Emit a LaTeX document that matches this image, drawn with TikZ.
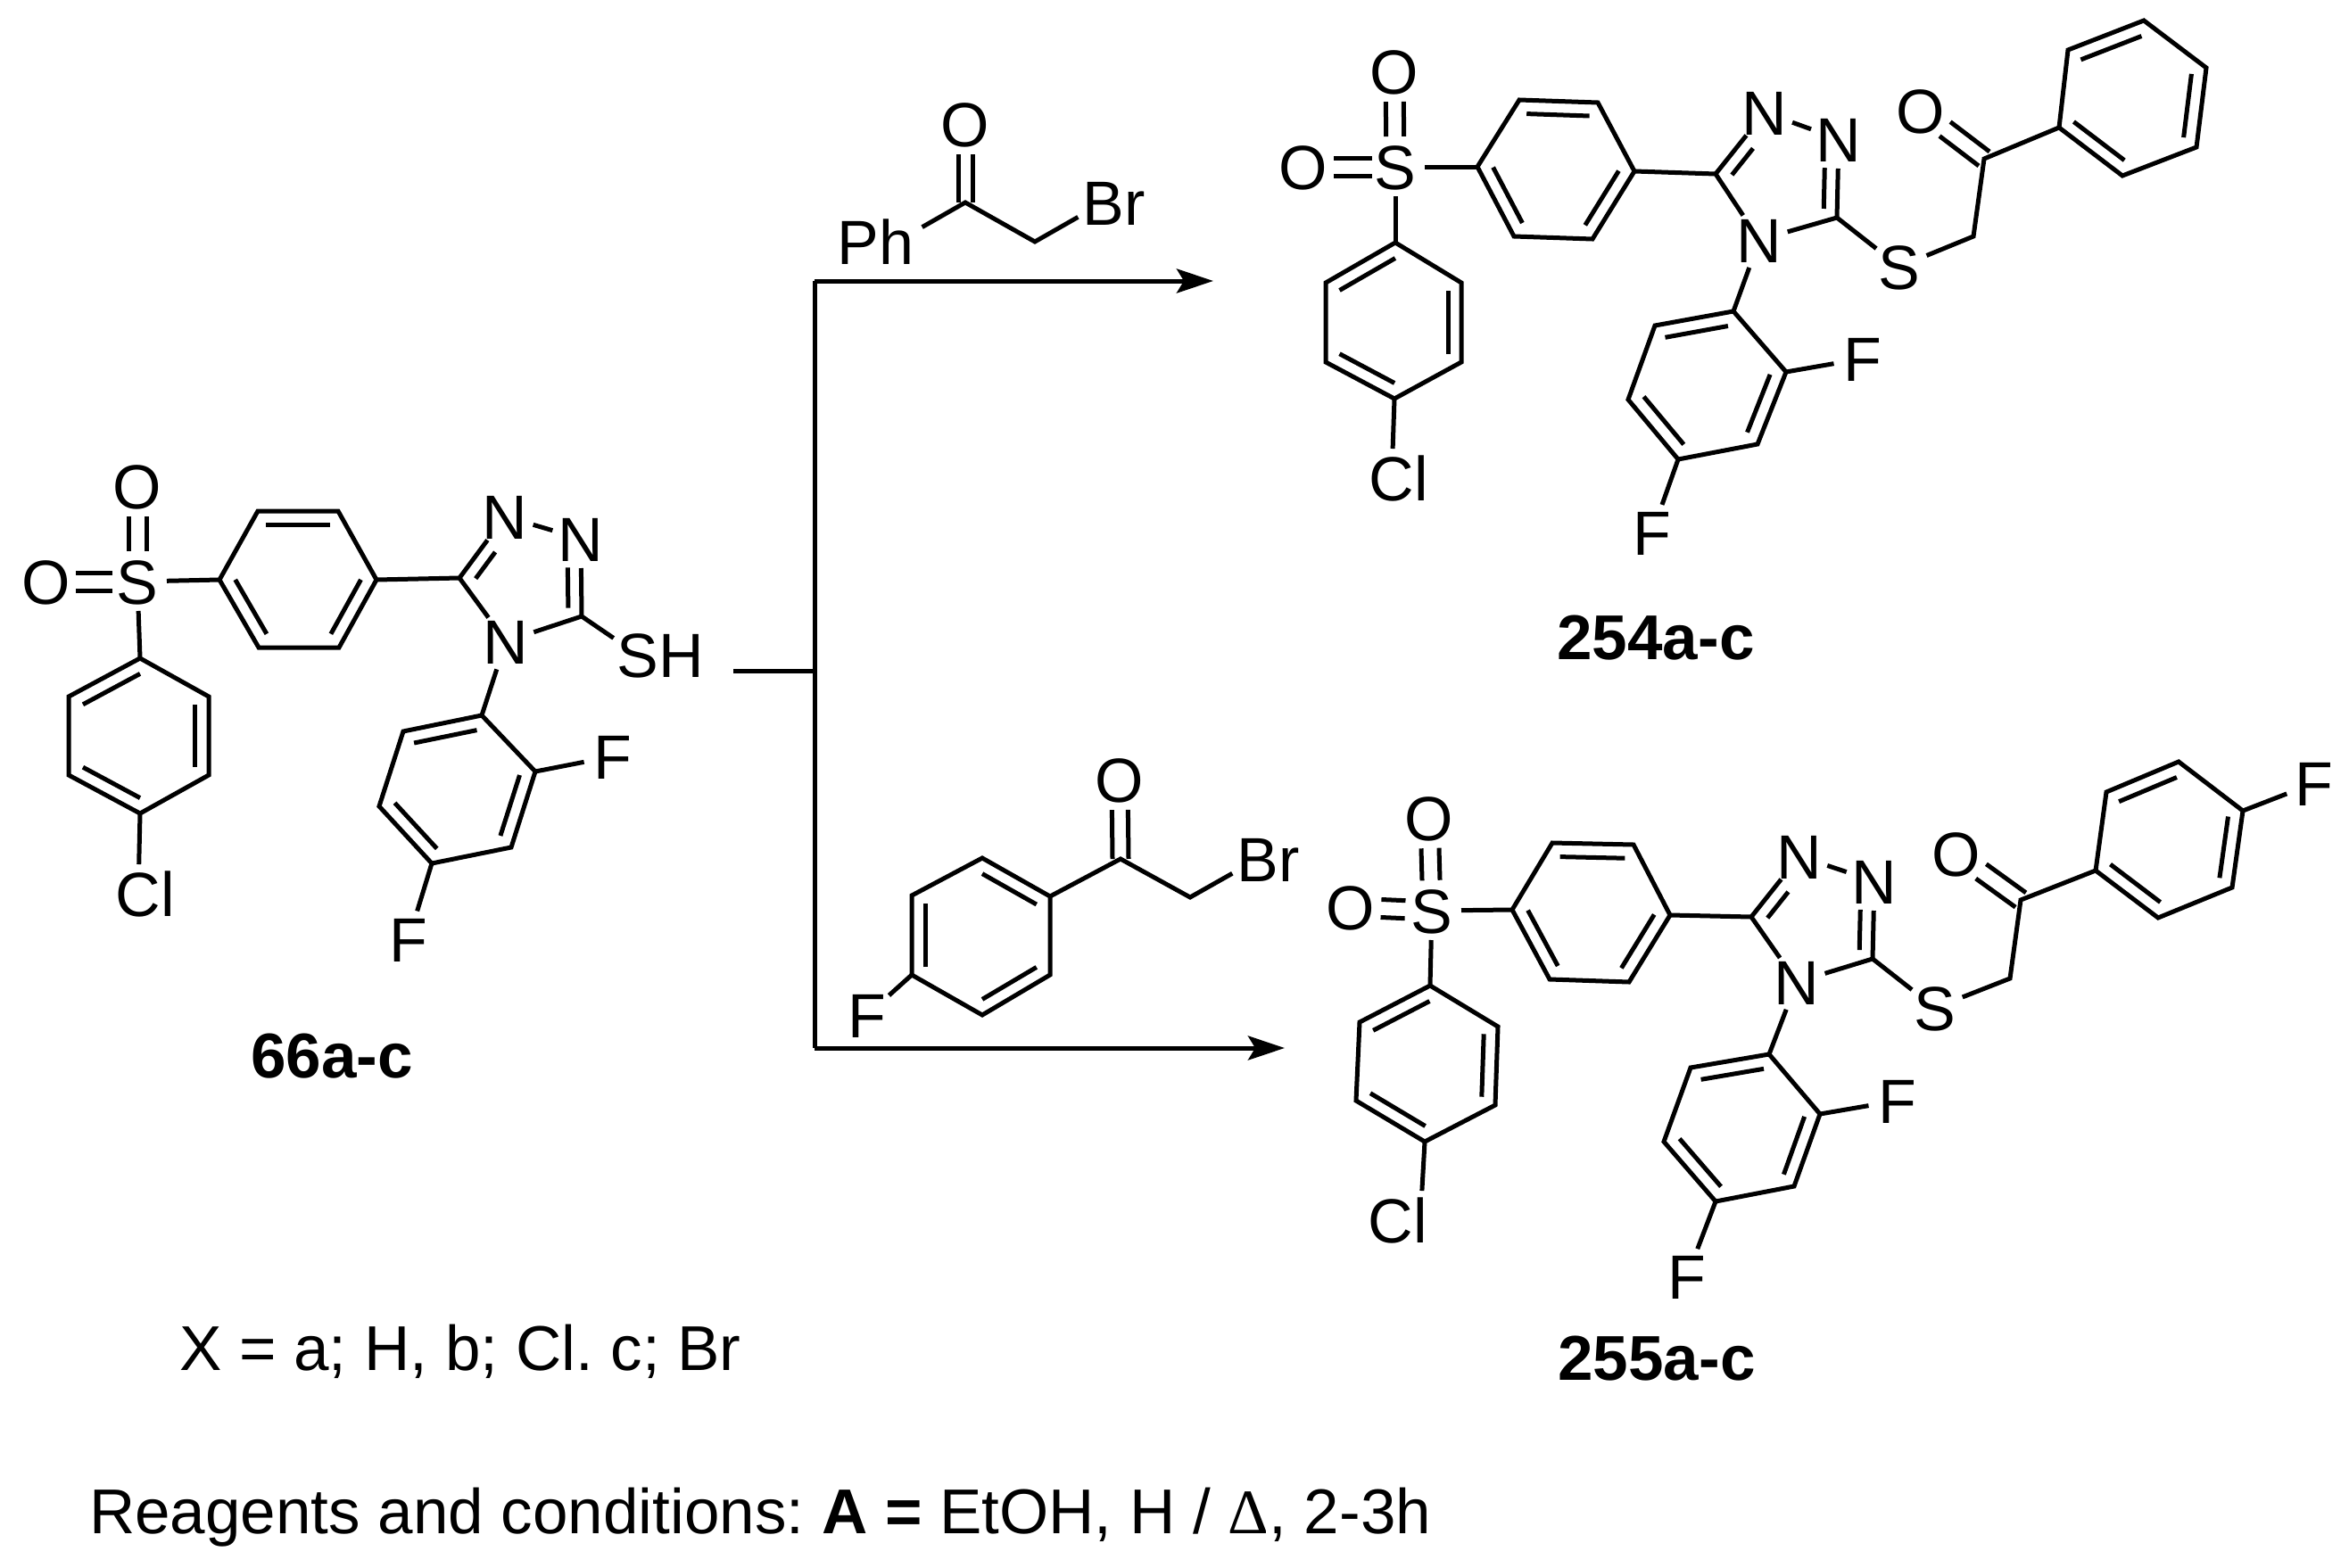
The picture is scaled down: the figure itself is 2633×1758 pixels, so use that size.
\documentclass[tikz,border=0pt]{standalone}
\usepackage{fontspec}
\setmainfont{Liberation Sans}
\newfontfamily\deltafont{Liberation Serif}
\usetikzlibrary{calc,arrows.meta}
\frenchspacing
\newcommand{\rsize}{\fontsize{70}{74}\selectfont}
\newcommand{\atm}[1]{\raisebox{-.358em}[0pt][0pt]{\makebox[0pt]{#1}}}
\tikzset{
  bond/.style={line width=5pt},
  atom/.style={circle,inner sep=0pt,outer sep=0pt,minimum size=66pt,font=\rsize},
  compound/.style={inner sep=0pt,font=\fontsize{71}{74}\selectfont\bfseries},
  note/.style={inner sep=0pt,anchor=base west,font=\fontsize{71}{74}\selectfont},
  react/.style={line width=5pt,-{Stealth[length=41pt,width=27pt,inset=8pt]}}
}
% benzene ring: doubles on p1-p2, p3-p4, p5-p6
\newcommand{\ringat}[7]{%
  \coordinate (#11) at (#2); \coordinate (#12) at (#3); \coordinate (#13) at (#4);
  \coordinate (#14) at (#5); \coordinate (#15) at (#6); \coordinate (#16) at (#7);
  \coordinate (#1c) at ($(#11)!.5!(#14)$);
  \draw[bond] (#11)--(#12)--(#13)--(#14)--(#15)--(#16)--cycle;
  \draw[bond] ($(#11)!.2!(#1c)$)--($(#12)!.2!(#1c)$);
  \draw[bond] ($(#13)!.2!(#1c)$)--($(#14)!.2!(#1c)$);
  \draw[bond] ($(#15)!.2!(#1c)$)--($(#16)!.2!(#1c)$);
}
% centred double bond a=b, trimmed by given distances
\newcommand{\dblc}[5]{%
  \coordinate (dp) at ($(#1)!#3!(#2)$); \coordinate (dq) at ($(#2)!#4!(#1)$);
  \draw[bond] ($(dp)!#5!90:(dq)$)--($(dq)!#5!-90:(dp)$);
  \draw[bond] ($(dp)!#5!-90:(dq)$)--($(dq)!#5!90:(dp)$);
}
% inner line of a double bond on one side
\newcommand{\offb}[5]{%
  \draw[bond] ($($(#1)!#3!(#2)$)!15pt!#5:(#2)$)--($($(#1)!#4!(#2)$)!15pt!#5:(#2)$);
}
% triazole: prefix, C5, Nt, Nr, C3, N4
\newcommand{\triaz}[6]{%
  \coordinate (#1C5) at (#2);
  \node[atom] (#1Nt) at (#3) {\atm{N}};
  \node[atom] (#1Nr) at (#4) {\atm{N}};
  \coordinate (#1C3) at (#5);
  \node[atom] (#1N4) at (#6) {\atm{N}};
  \draw[bond] (#1C5)--(#1Nt);
  \draw[bond] (#1Nt)--(#1Nr);
  \draw[bond] (#1Nr)--(#1C3);
  \draw[bond] (#1C3)--(#1N4);
  \draw[bond] (#1N4)--(#1C5);
  \offb{#1C5}{#1Nt}{.12}{.55}{-90}
  \offb{#1C3}{#1Nr}{.11}{.63}{90}
}
\begin{document}
\begin{tikzpicture}[x=1pt,y=-1pt]
\useasboundingbox (0,0) rectangle (2633,1758);
\fill[white] (0,0) rectangle (2633,1758);

% ---------- 66a-c ----------
\ringat{aA}{289,573}{379,573}{422,650}{380,726}{290,726}{246,650}
\ringat{aB}{157,738}{77,781}{77,869}{157,912}{234,869}{234,781}
\ringat{aD}{452,820}{540,802}{600,865}{573,950}{484,968}{425,904}
\node[atom] (aS) at (154,652) {\atm{S}};
\node[atom] (aOt) at (154,545) {\atm{O}};
\node[atom] (aOl) at (52,652) {\atm{O}};
\node[atom] (aCl) at (155,1002) {\atm{C\rlap{l}}};
\node[atom] (aF1) at (687,848) {\atm{F}};
\node[atom] (aF2) at (458,1053) {\atm{F}};
\node[atom] (aSH) at (715,734) {\atm{S\rlap{H}}};
\triaz{a}{515,648}{566,579}{651,604}{652,691}{567,719}
\dblc{aS}{aOt}{34pt}{34pt}{10pt}
\dblc{aS}{aOl}{28pt}{33pt}{10pt}
\draw[bond] (aS)--(aA6);
\draw[bond] (aS)--(aB1);
\draw[bond] (aB4)--(aCl);
\draw[bond] (aA3)--(aC5);
\draw[bond] (aC3)--(aSH);
\draw[bond] (aN4)--(aD2);
\draw[bond] (aD3)--(aF1);
\draw[bond] (aD5)--(aF2);
\node[compound] (la) at (372,1184) {66a-c};

% ---------- reaction arrows ----------
\coordinate (fork0) at (822,752);
\coordinate (fork) at (913,752);
\coordinate (top) at (913,315);
\coordinate (bot) at (913,1175);
\coordinate (tipa) at (1360,315);
\coordinate (tipb) at (1440,1175);
\draw[bond] (fork0)--(fork);
\draw[bond] (fork)--(top);
\draw[bond] (fork)--(bot);
\draw[react] (top)--(tipa);
\draw[react] (bot)--(tipb);

% ---------- reagent 1 ----------
\coordinate (rC) at (1082,227);
\coordinate (rM) at (1160,271);
\node[atom] (rO) at (1082,139) {\atm{O}};
\node[atom] (rBr) at (1237,227) {\atm{B\rlap{r}}};
\node[atom] (rPh) at (1005,271) {\atm{\llap{P}h}};
\dblc{rC}{rO}{0pt}{34pt}{8pt}
\draw[bond] (rPh)--(rC)--(rM)--(rBr);

% ---------- reagent 2 ----------
\ringat{sR}{1101,962}{1177,1005}{1177,1093}{1101,1138}{1022,1093}{1022,1004}
\coordinate (sC) at (1256,963);
\coordinate (sM) at (1334,1006);
\node[atom] (sO) at (1255,874) {\atm{O}};
\node[atom] (sBr) at (1410,963) {\atm{B\rlap{r}}};
\node[atom] (sF) at (972,1138) {\atm{F}};
\dblc{sC}{sO}{0pt}{34pt}{9pt}
\draw[bond] (sR2)--(sC)--(sM)--(sBr);
\draw[bond] (sR5)--(sF);

% ---------- 254a-c ----------
\ringat{bA}{1703,112}{1791,115}{1832,192}{1785,268}{1697,265}{1656,187}
\ringat{bB}{1564,272}{1486,317}{1486,406}{1563,447}{1638,406}{1638,317}
\ringat{bD}{1855,365}{1943,349}{2002,417}{1970,498}{1881,515}{1825,448}
\ringat{bP}{2318,56}{2403,23}{2473,76}{2462,165}{2379,197}{2308,143}
\node[atom] (bS) at (1564,187) {\atm{S}};
\node[atom] (bOt) at (1563,80) {\atm{O}};
\node[atom] (bOl) at (1461,187) {\atm{O}};
\node[atom] (bCl) at (1560,536) {\atm{C\rlap{l}}};
\node[atom] (bF1) at (2088,402) {\atm{F}};
\node[atom] (bF2) at (1852,597) {\atm{F}};
\node[atom] (bSb) at (2129,299) {\atm{S}};
\node[atom] (bO) at (2153,124) {\atm{O}};
\coordinate (bM) at (2212,265);
\coordinate (bC) at (2224,178);
\triaz{b}{1923,195}{1978,126}{2061,156}{2059,244}{1972,269}
\dblc{bS}{bOt}{34pt}{34pt}{10pt}
\dblc{bS}{bOl}{26pt}{34pt}{10pt}
\dblc{bC}{bO}{0pt}{34pt}{10pt}
\draw[bond] (bS)--(bA6);
\draw[bond] (bS)--(bB1);
\draw[bond] (bB4)--(bCl);
\draw[bond] (bA3)--(bC5);
\draw[bond] (bC3)--(bSb);
\draw[bond] (bSb)--(bM)--(bC)--(bP6);
\draw[bond] (bN4)--(bD2);
\draw[bond] (bD3)--(bF1);
\draw[bond] (bD5)--(bF2);
\node[compound] (lb) at (1856,715) {254a-c};

% ---------- 255a-c ----------
\ringat{cA}{1740,945}{1831,947}{1872,1026}{1826,1101}{1737,1098}{1695,1020}
\ringat{cB}{1603,1105}{1524,1146}{1520,1234}{1597,1280}{1676,1239}{1679,1151}
\ringat{cD}{1895,1197}{1983,1182}{2040,1249}{2011,1330}{1923,1347}{1865,1280}
\ringat{cP}{2361,888}{2442,854}{2514,909}{2502,995}{2419,1029}{2349,976}
\node[atom] (cS) at (1605,1021) {\atm{S}};
\node[atom] (cOt) at (1602,917) {\atm{O}};
\node[atom] (cOl) at (1514,1017) {\atm{O}};
\node[atom] (cCl) at (1592,1368) {\atm{\llap{C}l}};
\node[atom] (cF1) at (2127,1234) {\atm{F}};
\node[atom] (cF2) at (1891,1431) {\atm{F}};
\node[atom] (cF3) at (2594,878) {\atm{F}};
\node[atom] (cSb) at (2169,1130) {\atm{S}};
\node[atom] (cO) at (2193,957) {\atm{O}};
\coordinate (cM) at (2253,1097);
\coordinate (cC) at (2265,1009);
\triaz{c}{1963,1028}{2017,960}{2101,988}{2099,1075}{2014,1101}
\dblc{cS}{cOt}{34pt}{34pt}{10pt}
\dblc{cS}{cOl}{30pt}{34pt}{10pt}
\dblc{cC}{cO}{0pt}{34pt}{10pt}
\draw[bond] (cS)--(cA6);
\draw[bond] (cS)--(cB1);
\draw[bond] (cB4)--(cCl);
\draw[bond] (cA3)--(cC5);
\draw[bond] (cC3)--(cSb);
\draw[bond] (cSb)--(cM)--(cC)--(cP6);
\draw[bond] (cP3)--(cF3);
\draw[bond] (cN4)--(cD2);
\draw[bond] (cD3)--(cF1);
\draw[bond] (cD5)--(cF2);
\node[compound] (lc) at (1857,1523) {255a-c};

% ---------- notes ----------
\node[note] (nx) at (201,1536) {X = a; H, b; Cl. c; Br};
\node[note] (nr) at (100,1719) {Reagents and conditions: \textbf{A =} EtOH, H / {\deltafont Δ}, 2-3h};
\end{tikzpicture}
\end{document}
